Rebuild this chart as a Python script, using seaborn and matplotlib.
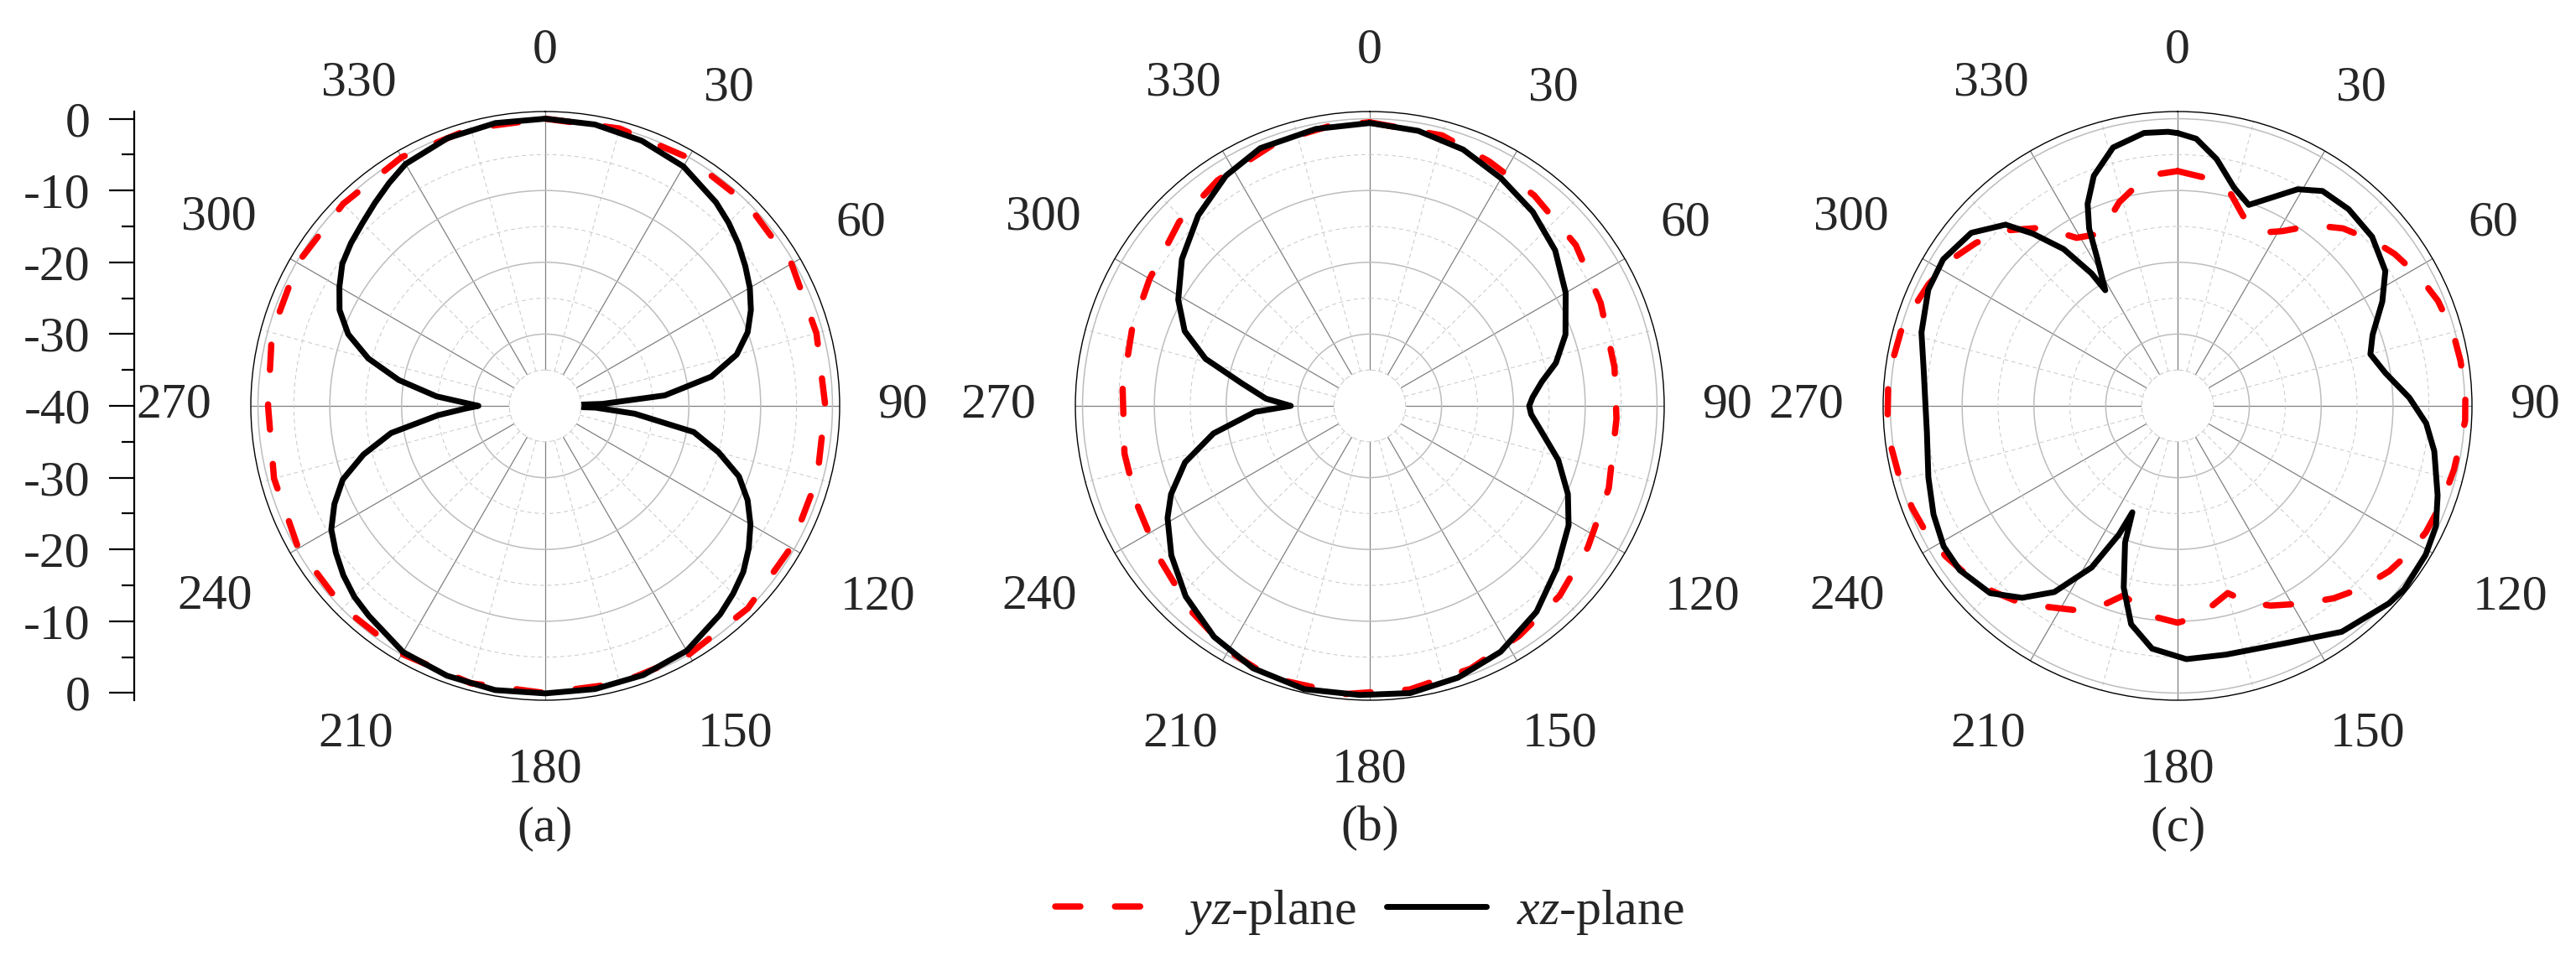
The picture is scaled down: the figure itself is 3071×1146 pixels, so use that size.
import numpy as np
import matplotlib
matplotlib.use("Agg")
import matplotlib.pyplot as plt
import seaborn as sns
from matplotlib.lines import Line2D

sns.set_theme(style="white")
plt.rcParams['font.family'] = ['Liberation Serif', 'DejaVu Serif']
plt.rcParams['mathtext.fontset'] = 'custom'
plt.rcParams['mathtext.rm'] = 'Liberation Serif'
plt.rcParams['mathtext.it'] = 'Liberation Serif:italic'

# ---- data (angle in deg, gain in dB) ----
a_yz_deg = [0, 15, 30, 45, 60, 75, 90, 105, 120, 135, 150, 165, 180, 195, 210, 225, 240, 255, 270, 285, 300, 315, 330, 345, 360]
a_yz_db = [0.0, 0.0, -0.1, -0.2, -0.4, -0.9, -1.0, -0.8, -0.5, -0.1, 0.0, 0.0, 0.0, 0.0, -0.1, -0.2, -0.3, -0.9, -1.4, -0.6, -0.2, -0.2, 0.0, 0.0, 0.0]

a_xz_deg = [0, 10, 20, 30, 40, 45, 50, 55, 60, 65, 70, 75, 80, 85, 88, 90, 92, 95, 100, 105,
            110, 115, 120, 125, 130, 135, 140, 150, 160, 170, 180, 190, 200, 210, 220, 225, 230, 235, 240, 245,
            250, 255, 260, 265, 268, 270, 272, 275, 280, 285, 290, 295, 300, 305, 310, 315, 320, 325, 330, 340, 350, 360]
a_xz_db = [0.0, -0.2, -0.7, -1.5, -3.0, -3.9, -4.9, -6.0, -7.1, -8.4, -10.0, -12.4, -16.5, -23.3, -32.0, -40.0, -33.0, -27.5, -19.0, -15.0,
           -11.3, -8.9, -7.0, -5.4, -4.0, -3.0, -2.1, -0.6, -0.1, 0.05, 0.05, 0.2, 0.0, -0.4, -1.8, -2.4, -3.3, -4.4, -5.6, -7.6,
           -10.0, -13.8, -18.2, -25.0, -28.8, -30.7, -29.0, -24.8, -19.3, -14.5, -10.8, -8.4, -6.9, -5.5, -4.7, -4.0, -3.1, -2.1, -1.1, -0.3, 0.0, 0.0]

b_yz_deg = [0, 15, 26, 38, 52, 66, 81, 93, 109, 123, 135, 147, 159, 172, 185, 200, 210, 221, 234, 247, 259, 274, 288, 300, 314, 326, 341, 352, 360]
b_yz_db = [-0.5, -1.0, -2.1, -2.8, -3.6, -4.8, -5.5, -5.6, -4.8, -3.8, -2.6, -1.8, -0.8, -0.1, 0.3, 0.3, -0.6, -2.1, -3.8, -4.8, -5.2, -5.5, -5.2, -4.6, -3.1, -2.1, -1.0, -0.6, -0.5]

b_xz_deg = [0, 10, 20, 30, 40, 50, 60, 70, 77, 82, 87, 90, 93, 98, 106, 114, 121, 131, 141, 152, 162, 172, 182,
            193, 204, 214, 224, 233, 241, 246, 253, 260, 267, 270, 274, 280, 286, 292, 299, 308, 318, 328, 337, 349, 360]
b_xz_db = [-0.6, -1.1, -2.0, -3.4, -4.7, -6.3, -8.5, -11.0, -13.4, -15.8, -17.3, -17.8, -17.5, -16.0, -12.7, -9.8, -7.7, -5.5, -3.1, -1.2, -0.2, 0.4, 0.3,
           0.5, 0.0, -1.2, -3.1, -5.4, -7.8, -9.7, -13.1, -17.9, -24.0, -29.0, -25.5, -21.9, -16.2, -12.2, -9.5, -6.8, -4.3, -2.2, -1.0, -0.7, -0.6]

c_yz_deg = [0, 9, 14, 19, 25, 31, 37, 43, 50, 55, 62, 68, 75, 81, 88, 93, 103, 110, 117, 123, 128, 135, 141, 148, 155, 160, 165, 170, 176, 180,
            187, 192, 196, 201, 206, 212, 218, 225, 231, 237, 243, 249, 256, 262, 268, 274, 280, 285, 290, 296, 303, 309, 316, 323, 329, 335, 338, 344, 350, 355, 360]
c_yz_db = [-7.3, -8.1, -9.5, -12.0, -13.4, -11.6, -8.5, -6.2, -4.3, -3.1, -1.8, -0.9, -0.3, -0.1, 0.1, 0.1, -0.5, -0.8, -1.2, -1.9, -2.6, -4.0, -5.5, -7.5, -9.3, -10.8, -13.0, -11.8, -10.3, -9.8,
           -10.5, -11.8, -12.5, -10.1, -8.3, -6.9, -5.0, -3.5, -2.4, -1.5, -0.8, -0.4, 0.0, 0.3, 0.4, 0.4, 0.1, -0.1, -0.7, -1.4, -2.5, -3.9, -6.0, -8.9, -12.7, -13.6, -13.0, -10.5, -8.6, -7.6, -7.3]

c_xz_deg = [0, 4, 9, 14.5, 19.5, 23, 29, 34, 41, 49, 57, 63, 70, 75, 81, 88, 94, 100, 109, 115, 121, 129, 133, 144, 155, 169, 178, 186, 192, 196.5,
            201, 203, 204.5, 208, 213.5, 219, 225, 233, 239, 246, 254, 264, 270, 278, 286, 295, 302, 310, 316.5, 320, 324, 327, 328, 331.5, 333.5, 336, 340, 346, 353, 358, 360]
c_xz_db = [-2.0, -2.7, -5.2, -8.6, -10.3, -8.8, -5.5, -3.9, -3.7, -4.1, -5.5, -8.0, -11.1, -12.2, -10.7, -7.7, -5.3, -3.7, -1.7, -0.3, 0.3, 0.6, 0.3, -1.1, -3.6, -4.7, -4.7, -6.0, -8.9, -13.6,
           -19.6, -23.9, -20.3, -14.5, -8.9, -5.6, -3.1, -2.0, -2.0, -2.8, -3.9, -4.9, -4.9, -4.3, -2.9, -1.7, -1.5, -2.5, -5.2, -8.7, -13.0, -18.0, -21.0, -16.5, -12.4, -9.2, -5.9, -2.9, -1.7, -1.8, -2.0]

panel_names = ['(a)', '(b)', '(c)']
theta_labels = ['0', '30', '60', '90', '120', '150', '180', '210', '240', '270', '300', '330']
left_tick_labels = ['0', '-10', '-20', '-30', '-40', '-30', '-20', '-10', '0']
legend_labels = [r'$yz$-plane', r'$xz$-plane']

W, H = 3071, 1146
fs = 43
# label distance from the rim, per angle label (points)
label_pads = [45, 55, 53, 47, 70, 66, 53, 66, 68, 59, 64, 60]
red_style = dict(color='#ff0000', lw=5.4, ls=(0, (4, 5.5)), dash_capstyle='round')
black_style = dict(color='black', lw=5.0, solid_capstyle='round')

fig = plt.figure(figsize=(W / 100, H / 100), dpi=100)

R = 351
cy = 484
centers = [650, 1633, 2596]
series = [(a_yz_deg, a_yz_db, a_xz_deg, a_xz_db),
          (b_yz_deg, b_yz_db, b_xz_deg, b_xz_db),
          (c_yz_deg, c_yz_db, c_xz_deg, c_xz_db)]

for cx, name, (yz_deg, yz_db, xz_deg, xz_db) in zip(centers, panel_names, series):
    ax = fig.add_axes([(cx - R) / W, (H - cy - R) / H, 2 * R / W, 2 * R / H], projection='polar')
    sns.lineplot(x=np.radians(yz_deg), y=yz_db, ax=ax, sort=False, estimator=None, **red_style)
    sns.lineplot(x=np.radians(xz_deg), y=xz_db, ax=ax, sort=False, estimator=None, **black_style)

    ax.set_theta_zero_location('N')
    ax.set_theta_direction(-1)
    ax.set_rorigin(-40)
    ax.set_ylim(-35, 1)
    ax.set_xticks(np.radians(np.arange(0, 360, 30)))
    ax.set_xticklabels(theta_labels, fontsize=fs)
    ax.set_xticks(np.radians(np.arange(15, 360, 30)), minor=True)
    ax.set_yticks([-30, -20, -10, 0])
    ax.set_yticks([-25, -15, -5], minor=True)
    ax.set_yticklabels([])
    ax.set_xlabel('')
    ax.set_ylabel('')
    ax.grid(False)
    ax.xaxis.grid(True, which='major', color='#808080', lw=0.9, ls='-')
    ax.xaxis.grid(True, which='minor', color='#c8c8c8', lw=0.7, ls=(0, (5, 4)))
    ax.yaxis.grid(True, which='major', color='#bdbdbd', lw=1.1, ls='-')
    ax.yaxis.grid(True, which='minor', color='#c8c8c8', lw=0.7, ls=(0, (5, 4)))
    ax.tick_params(axis='x', which='major', direction='in', length=18, width=0.9, color='black')
    ax.tick_params(axis='x', which='minor', direction='in', length=9, width=0.9, color='black')
    ax.tick_params(axis='y', which='both', length=0)
    for tick, p in zip(ax.xaxis.get_major_ticks(), label_pads):
        tick.set_pad(p)
    ax.spines['polar'].set(color='black', lw=1.0)
    ax.spines['inner'].set(color='#c8c8c8', lw=0.7, ls=(0, (5, 4)))

    fig.text(cx / W, 1 - 988 / H, name, ha='center', va='center', fontsize=fs)

# left dB scale
axl = fig.add_axes([160 / W, (H - cy - R) / H, 0.0005, 2 * R / H])
axl.set_ylim(-41, 41)
axl.set_yticks(np.arange(-40, 41, 10))
axl.set_yticklabels(left_tick_labels, fontsize=fs)
axl.set_yticks(np.arange(-35, 36, 10), minor=True)
axl.set_xticks([])
for s in ['top', 'right', 'bottom']:
    axl.spines[s].set_visible(False)
axl.spines['left'].set(color='black', lw=1.6)
axl.tick_params(axis='y', which='major', left=True, direction='out', length=21.6, width=1.6, pad=16, color='black')
axl.tick_params(axis='y', which='minor', left=True, direction='out', length=10.8, width=1.6, color='black')
axl.patch.set_visible(False)

handles = [Line2D([], [], **red_style), Line2D([], [], **black_style)]
fig.legend(handles, legend_labels, loc='center', bbox_to_anchor=(1633 / W, 1 - 1088 / H), ncol=2,
           frameon=False, fontsize=fs, handlelength=2.0, handletextpad=0.6, columnspacing=0.6)

fig.savefig('out.png', dpi=100)
